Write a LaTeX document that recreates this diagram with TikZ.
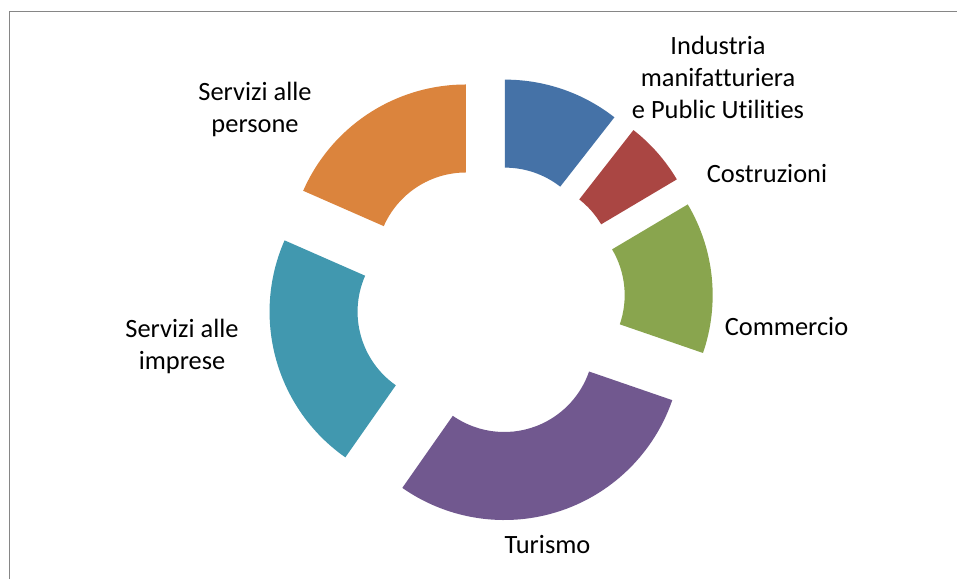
\documentclass[tikz,border=0pt]{standalone}
\usepackage{fontspec}
\setmainfont{Carlito}[Ligatures=NoCommon]
\definecolor{segInd}{HTML}{4572A7}
\definecolor{segCos}{HTML}{AA4643}
\definecolor{segCom}{HTML}{89A54E}
\definecolor{segTur}{HTML}{71588F}
\definecolor{segImp}{HTML}{4198AF}
\definecolor{segPer}{HTML}{DB843D}
\definecolor{frame}{HTML}{868686}
\begin{document}
\begin{tikzpicture}[x=1pt,y=1pt,
		lbl/.style={anchor=base,align=center,inner sep=0pt,font=\fontsize{26.4}{32}\selectfont}]
		\useasboundingbox (0,0) rectangle (957,579);
		\fill[white] (0,0) rectangle (957,579);
		\draw[frame,line width=1.5pt] (9.5,0) |- (957,567.5); %cornice
		\coordinate (O) at (490.4,279.3);
		% settori: inizio/fine/colore
		\foreach \Deb/\Fin/\Col in {90/52/segInd,52/30.7/segCos,30.7/-19/segCom,-19/-125/segTur,-125/-203.7/segImp,-203.7/-270/segPer}
		{
		\pgfmathsetmacro{\Mid}{(\Deb+\Fin)/2}
		\fill[\Col,shift={(O)},shift={(\Mid:44.8)}] (\Deb:177.7) arc[start angle=\Deb,end angle=\Fin,radius=177.7] -- (\Fin:89.7) arc[start angle=\Fin,end angle=\Deb,radius=89.7] -- cycle;
		}
		% etichette (base = ultima riga)
		\node[lbl] (ind) at (718,460) {Industria\\manifatturiera\\e Public Utilities};
		\node[lbl] (cos) at (767,396) {Costruzioni};
		\node[lbl] (com) at (786.5,244) {Commercio};
		\node[lbl] (tur) at (547.5,26) {Turismo};
		\node[lbl] (imp) at (182,210) {Servizi alle\\imprese};
		\node[lbl] (per) at (255,446) {Servizi alle\\persone};
	\end{tikzpicture}
\end{document}
